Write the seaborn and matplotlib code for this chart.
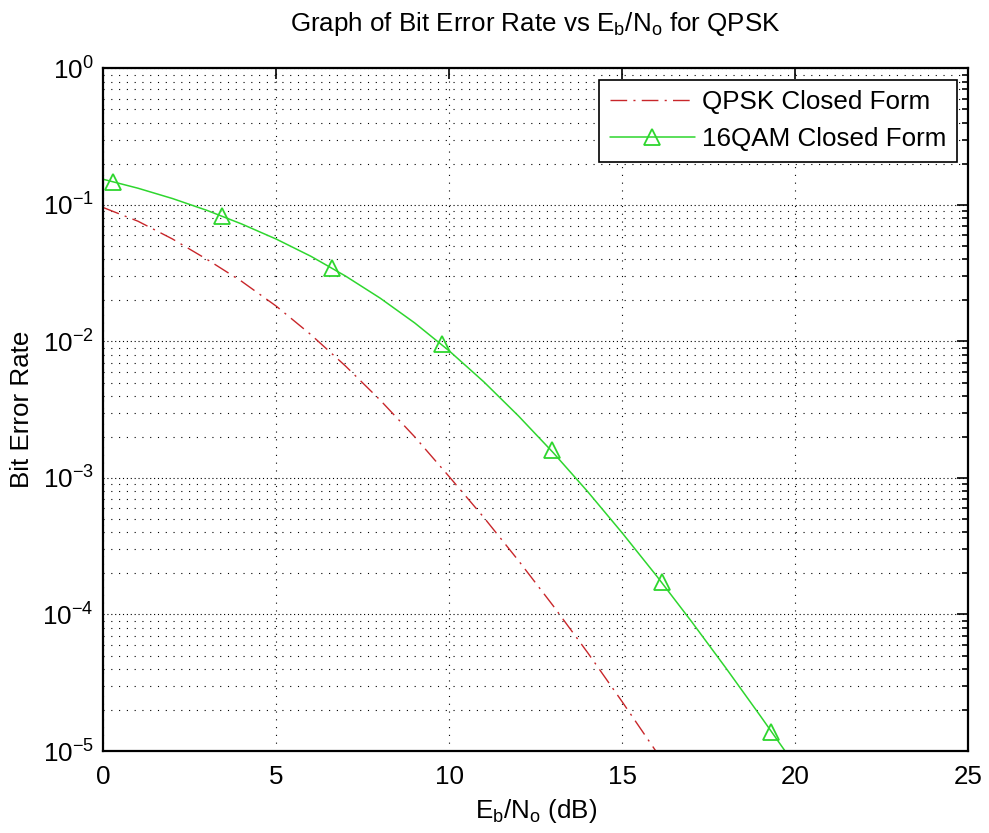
import pandas as pd
import matplotlib
matplotlib.use('Agg')
import matplotlib.pyplot as plt
from matplotlib.lines import Line2D
from matplotlib.ticker import LogLocator, NullFormatter, FixedLocator
import seaborn as sns

# QPSK closed form
qpsk_ebno = [0, 1, 2, 3, 4, 5, 6, 7, 8, 9, 10, 11, 12, 13, 14, 15, 15.97, 16.1]
qpsk_ber = [0.0955, 0.0759, 0.0562, 0.0398, 0.0275, 0.0181, 0.0112, 0.0066,
            0.00372, 0.0020, 0.00102, 5.13e-4, 2.48e-4, 1.16e-4, 5.25e-5, 2.29e-5,
            1.0e-5, 8.9e-6]

# 16QAM closed form curve
qam_ebno = [0, 1, 2, 3, 4, 5, 6, 7, 8, 9, 10, 11, 12, 13, 14, 15, 16, 17, 18, 19, 19.8]
qam_ber = [0.1538, 0.1324, 0.1112, 0.0910, 0.0724, 0.0561, 0.0420, 0.0301, 0.02075,
           0.01365, 0.00851, 0.00505, 0.002844, 0.001535, 7.94e-4, 3.95e-4, 1.905e-4,
           8.89e-5, 4.04e-5, 1.795e-5, 9.25e-6]

# 16QAM marker positions
qam_mark_ebno = [0.29, 3.42, 6.60, 9.78, 12.96, 16.14, 19.31]
qam_mark_ber = [0.147, 0.0826, 0.0347, 0.0096, 0.00159, 1.72e-4, 1.39e-5]

xticks = [0, 5, 10, 15, 20, 25]

red = '#c8262a'
green = '#2ed62e'
dashdot = (0, (12, 4.5, 1.5, 4.5))
fs = 18.7


def main():
    sns.set_style('white')
    plt.rcParams['font.family'] = ['Liberation Sans', 'DejaVu Sans']
    plt.rcParams['mathtext.fontset'] = 'custom'
    plt.rcParams['mathtext.rm'] = 'Liberation Sans'
    plt.rcParams['font.size'] = fs
    plt.rcParams['text.color'] = 'k'
    plt.rcParams['axes.labelcolor'] = 'k'

    qpsk = pd.DataFrame({'ebno': qpsk_ebno, 'ber': qpsk_ber})
    qam = pd.DataFrame({'ebno': qam_ebno, 'ber': qam_ber})
    marks = pd.DataFrame({'ebno': qam_mark_ebno, 'ber': qam_mark_ber})

    fig = plt.figure(figsize=(9.89, 8.33), dpi=100)
    ax = fig.add_axes([0.1045, 0.0984, 0.8745, 0.8196])

    sns.lineplot(data=qpsk, x='ebno', y='ber', ax=ax, color=red, lw=1.0,
                 linestyle=dashdot)
    sns.lineplot(data=qam, x='ebno', y='ber', ax=ax, color=green, lw=1.1)
    sns.lineplot(data=marks, x='ebno', y='ber', ax=ax, linestyle='',
                 marker='^', markersize=12, markerfacecolor='none',
                 markeredgecolor=green, markeredgewidth=1.3)

    ax.set_yscale('log')
    ax.set_xlim(0, 25)
    ax.set_ylim(1e-5, 1)
    ax.xaxis.set_major_locator(FixedLocator(xticks))
    ax.yaxis.set_major_locator(LogLocator(base=10, numticks=10))
    ax.yaxis.set_minor_locator(LogLocator(base=10, subs=range(2, 10), numticks=20))
    ax.yaxis.set_minor_formatter(NullFormatter())

    # matlab style dotted grid
    ax.grid(True, which='major', axis='x', color='k', lw=0.8, linestyle=(0, (1, 6)))
    ax.grid(True, which='major', axis='y', color='k', lw=0.8, linestyle=(0, (1, 2.5)))
    ax.grid(True, which='minor', axis='y', color='k', lw=0.8, linestyle=(0, (1, 6)))

    for sp in ax.spines.values():
        sp.set_linewidth(1.6)
        sp.set_color('k')
    ax.tick_params(which='both', direction='in', top=True, right=True,
                   colors='k', labelsize=fs)
    ax.tick_params(which='major', length=8, width=1.2)
    ax.tick_params(which='minor', length=4.5, width=1.2)
    ax.tick_params(axis='x', pad=10)
    ax.tick_params(axis='y', pad=7)

    ax.set_title('Graph of Bit Error Rate vs E$_\\mathregular{b}$/N$_\\mathregular{o}$ for QPSK',
                 fontsize=fs, pad=27)
    ax.set_xlabel('E$_\\mathregular{b}$/N$_\\mathregular{o}$ (dB)', fontsize=fs, labelpad=6)
    ax.set_ylabel('Bit Error Rate', fontsize=fs, labelpad=6)

    handles = [
        Line2D([], [], color=red, lw=1.0, linestyle=dashdot),
        Line2D([], [], color=green, lw=1.1, marker='^', markersize=12,
               markerfacecolor='none', markeredgecolor=green, markeredgewidth=1.3),
    ]
    leg = ax.legend(handles, ['QPSK Closed Form', '16QAM Closed Form'],
                    loc='upper right', fontsize=fs, frameon=True, fancybox=False,
                    edgecolor='k', framealpha=1, borderaxespad=0.45,
                    handlelength=3.3, handletextpad=0.25, labelspacing=0.5,
                    borderpad=0.4)
    leg.get_frame().set_linewidth(1.2)

    plt.savefig('out.png', dpi=100, facecolor='white')
    plt.close()


if __name__ == '__main__':
    main()
